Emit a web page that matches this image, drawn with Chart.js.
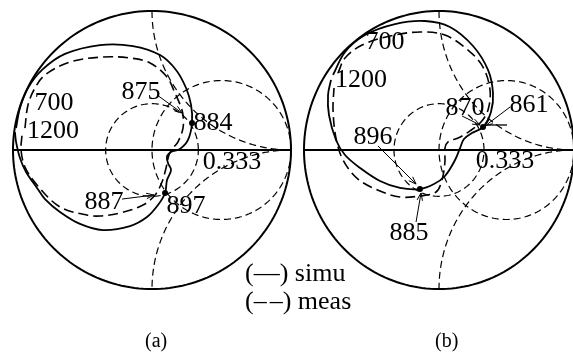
<!DOCTYPE html>
<html>
<head>
<meta charset="utf-8">
<script src="https://cdn.jsdelivr.net/npm/chart.js@4.4.1/dist/chart.umd.min.js"></script>
<style>
  html, body { margin: 0; padding: 0; background: #fff; }
  #page { position: relative; width: 573px; height: 352px; overflow: hidden; background: #fff;
          font-family: "Liberation Serif", "Times New Roman", serif; color: #000; }
  #page canvas { position: absolute; }
  .txt { position: absolute; white-space: nowrap; }
</style>
</head>
<body>
<div id="page">
  <canvas id="smithA"></canvas>
  <canvas id="smithB"></canvas>
  <div class="txt" style="left:245px;top:260px;font-size:26px;line-height:26px">(—) simu</div>
  <div class="txt" style="left:245px;top:288px;font-size:26px;line-height:26px">(<span style="letter-spacing:3px">–</span>–) meas</div>
  <div class="txt" style="left:145px;top:330px;font-size:20px;line-height:20px">(a)</div>
  <div class="txt" style="left:435px;top:330px;font-size:20px;line-height:20px">(b)</div>
</div>
<script>
// ─── DATA (reflection coefficient, Re / Im) ───────────────────────────────────

// (a) simulated, 700 -> 1200 MHz
const simuARe = [-0.978, -0.950, -0.892, -0.791, -0.626, -0.374, -0.137, 0.058, 0.173, 0.245, 0.281, 0.288,
                 0.259, 0.201, 0.137, 0.108, 0.115, 0.137, 0.108, 0.094, 0.043, -0.036, -0.158, -0.353,
                 -0.518, -0.662, -0.770, -0.827, -0.906, -0.950, -0.978, -0.986];
const simuAIm = [0.158, 0.302, 0.446, 0.576, 0.691, 0.755, 0.748, 0.683, 0.576, 0.446, 0.324, 0.194,
                 0.072, 0.007, -0.014, -0.043, -0.094, -0.144, -0.216, -0.309, -0.396, -0.482, -0.547, -0.576,
                 -0.532, -0.446, -0.353, -0.273, -0.158, -0.058, 0.058, 0.129];
// (a) measured
const measARe = [-0.914, -0.892, -0.842, -0.770, -0.590, -0.353, -0.158, -0.014, 0.108, 0.165, 0.209, 0.223,
                 0.223, 0.187, 0.151, 0.122, 0.101, 0.072, 0.022, -0.065, -0.230, -0.374, -0.468, -0.662,
                 -0.827, -0.914, -0.942, -0.935];
const measAIm = [0.158, 0.324, 0.446, 0.540, 0.633, 0.669, 0.662, 0.626, 0.525, 0.410, 0.309, 0.252,
                 0.158, 0.058, 0.014, -0.036, -0.129, -0.230, -0.324, -0.396, -0.453, -0.475, -0.468, -0.410,
                 -0.252, -0.122, 0.000, 0.108];

// (b) simulated
const simuBRe = [-0.785, -0.696, -0.548, -0.326, -0.104, 0.081, 0.252, 0.363, 0.400, 0.385, 0.326, 0.244,
                 0.185, 0.156, 0.119, 0.044, -0.037, -0.141, -0.289, -0.437, -0.585, -0.696, -0.763, -0.815,
                 -0.822, -0.800];
const simuBIm = [0.540, 0.705, 0.827, 0.906, 0.928, 0.885, 0.748, 0.576, 0.410, 0.273, 0.165, 0.122,
                 0.079, 0.014, -0.072, -0.187, -0.245, -0.281, -0.273, -0.223, -0.129, -0.036, 0.072, 0.252,
                 0.396, 0.504];
// (b) measured
const measBRe = [-0.748, -0.696, -0.570, -0.363, -0.141, 0.044, 0.215, 0.326, 0.378, 0.363, 0.311, 0.230,
                 0.141, 0.067, 0.044, 0.044, 0.022, -0.022, -0.141, -0.289, -0.437, -0.600, -0.711, -0.763,
                 -0.785, -0.778];
const measBIm = [0.554, 0.662, 0.755, 0.820, 0.849, 0.827, 0.719, 0.597, 0.432, 0.288, 0.201, 0.137,
                 0.086, 0.058, 0.014, -0.086, -0.216, -0.302, -0.331, -0.338, -0.295, -0.209, -0.072, 0.086,
                 0.288, 0.446];

// points on the simulated curves marked with a dot (index into the series)
const dotsA = [11, 19];   // 884, 897
const dotsB = [10, 17];   // 861, 885

// frequency / circle labels (MHz), placed in the reflection plane
const labelTextA = ['700', '1200', '875', '884', '887', '897', '0.333'];
const labelPosA = [[-0.705, 0.345], [-0.712, 0.144], [-0.079, 0.424], [0.439, 0.201],
                   [-0.345, -0.367], [0.245, -0.396], [0.576, -0.079]];
const labelTextB = ['700', '1200', '870', '861', '896', '885', '0.333'];
const labelPosB = [[-0.400, 0.784], [-0.578, 0.511], [0.193, 0.309], [0.667, 0.331],
                   [-0.489, 0.101], [-0.222, -0.590], [0.489, -0.072]];

// leader arrows [fromRe, fromIm, toRe, toIm]
const arrowsA = [[0.036, 0.396, 0.216, 0.266], [-0.216, -0.353, 0.014, -0.324]];
const arrowsB = [[0.170, 0.245, 0.304, 0.180], [0.526, 0.309, 0.341, 0.173],
                 [-0.452, 0.029, -0.170, -0.245], [-0.170, -0.518, -0.133, -0.309]];
// plain tick strokes [fromRe, fromIm, toRe, toIm]
const ticksB = [[0.356, 0.180, 0.504, 0.180]];

// ─── SMITH CHART HELPERS ──────────────────────────────────────────────────────

const PAD = 6;
const toXY = (re, im) => re.map((r, i) => ({ x: r, y: im[i] }));

const smithPlugin = {
  id: 'smith',
  beforeDatasetsDraw(chart) {
    const { ctx, scales: { x, y } } = chart;
    const curve = (fn, a0, a1) => {
      ctx.beginPath();
      for (let i = 0; i <= 200; i++) {
        const [u, v] = fn(a0 + (a1 - a0) * i / 200);
        const px = x.getPixelForValue(u), py = y.getPixelForValue(v);
        i ? ctx.lineTo(px, py) : ctx.moveTo(px, py);
      }
      ctx.stroke();
    };
    const circle = (cu, cv, r, a0 = 0, a1 = 2 * Math.PI) =>
      curve(t => [cu + r * Math.cos(t), cv + r * Math.sin(t)], a0, a1);

    ctx.save();
    ctx.strokeStyle = '#000';
    ctx.lineWidth = 1.2;
    ctx.setLineDash([7, 4]);
    circle(0.5, 0, 0.5);                          // r = 1
    circle(0, 0, 1 / 3);                          // |G| = 0.333
    circle(1, 1, 1, Math.PI, 1.5 * Math.PI);      // x = +1
    circle(1, -1, 1, 0.5 * Math.PI, Math.PI);     // x = -1
    ctx.setLineDash([]);
    ctx.lineWidth = 2;
    circle(0, 0, 1);
    ctx.beginPath();
    ctx.moveTo(x.getPixelForValue(-1), y.getPixelForValue(0));
    ctx.lineTo(x.getPixelForValue(1), y.getPixelForValue(0));
    ctx.stroke();
    ctx.restore();
  },
  afterDatasetsDraw(chart, args, opts) {
    const { ctx, scales: { x, y } } = chart;
    ctx.save();
    ctx.strokeStyle = '#000';
    ctx.fillStyle = '#000';
    ctx.lineWidth = 1;
    (opts.arrows || []).forEach(([u0, v0, u1, v1]) => {
      const x0 = x.getPixelForValue(u0), y0 = y.getPixelForValue(v0);
      const x1 = x.getPixelForValue(u1), y1 = y.getPixelForValue(v1);
      const a = Math.atan2(y1 - y0, x1 - x0), h = 8;
      ctx.beginPath();
      ctx.moveTo(x0, y0); ctx.lineTo(x1, y1);
      ctx.moveTo(x1 - h * Math.cos(a - 0.35), y1 - h * Math.sin(a - 0.35));
      ctx.lineTo(x1, y1);
      ctx.lineTo(x1 - h * Math.cos(a + 0.35), y1 - h * Math.sin(a + 0.35));
      ctx.stroke();
    });
    ctx.lineWidth = 1.3;
    (opts.ticks || []).forEach(([u0, v0, u1, v1]) => {
      ctx.beginPath();
      ctx.moveTo(x.getPixelForValue(u0), y.getPixelForValue(v0));
      ctx.lineTo(x.getPixelForValue(u1), y.getPixelForValue(v1));
      ctx.stroke();
    });
    ctx.font = '26px "Liberation Serif", "Times New Roman", serif';
    ctx.textAlign = 'center';
    ctx.textBaseline = 'middle';
    (opts.labels || []).forEach((t, i) => {
      const [u, v] = opts.labelPos[i];
      ctx.fillText(t, x.getPixelForValue(u), y.getPixelForValue(v) + 1);
    });
    ctx.restore();
  }
};

function makeSmith(id, cx, cy, rx, ry, simuRe, simuIm, measRe, measIm, dots, labels, labelPos, arrows, ticks) {
  const canvas = document.getElementById(id);
  canvas.width = 2 * (rx + PAD);
  canvas.height = 2 * (ry + PAD);
  canvas.style.left = (cx - rx - PAD) + 'px';
  canvas.style.top = (cy - ry - PAD) + 'px';
  const simu = toXY(simuRe, simuIm);
  return new Chart(canvas.getContext('2d'), {
    type: 'scatter',
    data: {
      datasets: [
        { label: 'simu', data: simu, showLine: true, borderColor: '#000', borderWidth: 1.8,
          pointRadius: 0, tension: 0.35, fill: false },
        { label: 'meas', data: toXY(measRe, measIm), showLine: true, borderColor: '#000', borderWidth: 1.6,
          borderDash: [10, 5], pointRadius: 0, tension: 0.35, fill: false },
        { label: 'dots', data: dots.map(i => simu[i]), showLine: false, pointRadius: 3,
          pointBackgroundColor: '#000', pointBorderColor: '#000', pointBorderWidth: 0 }
      ]
    },
    options: {
      responsive: false,
      maintainAspectRatio: false,
      animation: false,
      layout: { padding: PAD },
      scales: {
        x: { type: 'linear', min: -1, max: 1, display: false },
        y: { type: 'linear', min: -1, max: 1, display: false }
      },
      plugins: {
        legend: { display: false },
        tooltip: { enabled: false },
        smith: { labels, labelPos, arrows, ticks }
      }
    },
    plugins: [smithPlugin]
  });
}

makeSmith('smithA', 152, 150, 139, 139, simuARe, simuAIm, measARe, measAIm, dotsA, labelTextA, labelPosA, arrowsA, []);
makeSmith('smithB', 439, 150, 135, 139, simuBRe, simuBIm, measBRe, measBIm, dotsB, labelTextB, labelPosB, arrowsB, ticksB);
</script>
</body>
</html>
